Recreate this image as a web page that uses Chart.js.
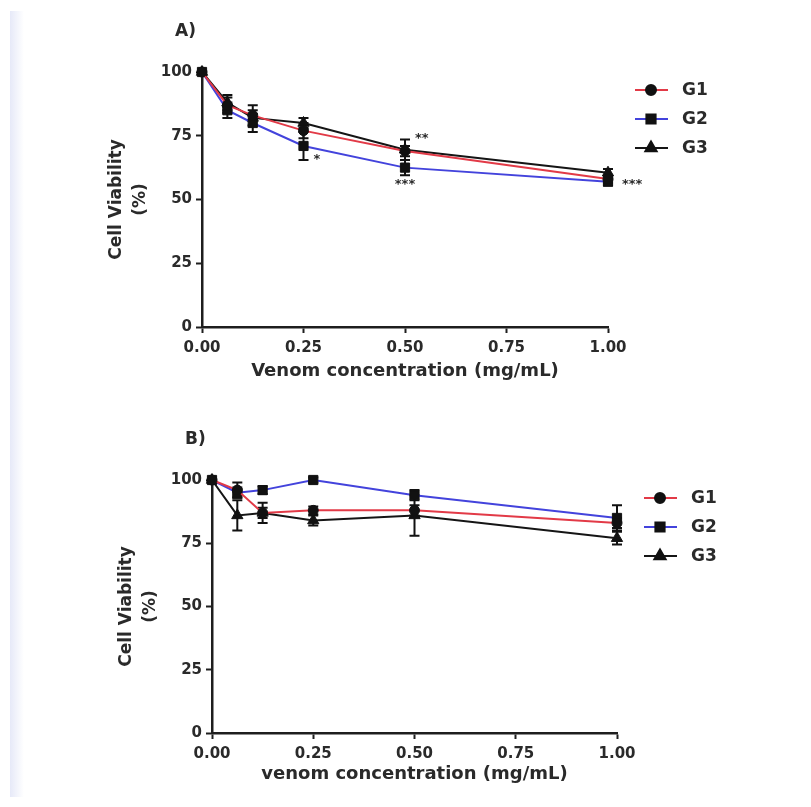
<!DOCTYPE html>
<html>
<head>
<meta charset="utf-8">
<script src="https://cdn.jsdelivr.net/npm/chart.js@4.4.1/dist/chart.umd.min.js"></script>
<style>
  body { margin: 0; background: #fff; width: 811px; height: 807px; position: relative; overflow: hidden; }
  #strip { position: absolute; left: 10px; top: 11px; width: 14px; height: 786px; background: linear-gradient(to right, #e6e9f8, #ffffff); }
  .panel { position: absolute; left: 0; }
  #panelA { top: 0; }
  #panelB { top: 400px; }
</style>
</head>
<body>
<div id="strip"></div>
<div class="panel" id="panelA"><canvas id="chartA" width="811" height="400"></canvas></div>
<div class="panel" id="panelB"><canvas id="chartB" width="811" height="407"></canvas></div>
<script>
// venom concentrations (mg/mL)
const conc = [0, 0.0625, 0.125, 0.25, 0.5, 1.0];
const xTicks = [0, 0.25, 0.5, 0.75, 1.0];
const yTicks = [0, 25, 50, 75, 100];
const groups = ["G1", "G2", "G3"];

// panel A: cell viability (%) and SEM
const g1A = [100, 87, 83, 77, 69, 58];
const g2A = [100, 85, 80, 71, 62.5, 57];
const g3A = [100, 88, 82, 80, 69.5, 60.5];
const g1AErr = [0, 3, 4, 3, 2, 1.5];
const g2AErr = [0, 3, 3.5, 5.5, 3, 1.5];
const g3AErr = [0, 3, 3, 2, 4, 1.5];
const starsA = [
  { x: 0.25, y: 67, text: "*", align: "left" },
  { x: 0.5, y: 75, text: "**", align: "left" },
  { x: 0.5, y: 57, text: "***", align: "center" },
  { x: 1.0, y: 57, text: "***", align: "left" },
];

// panel B
const g1B = [100, 96, 87, 88, 88, 83];
const g2B = [100, 95, 96, 100, 94, 85];
const g3B = [100, 86, 87, 84, 86, 77];
const g1BErr = [0, 3, 4, 1.5, 2, 2];
const g2BErr = [0, 2, 1.5, 1, 2, 5];
const g3BErr = [0, 6, 2, 2, 8, 2.5];

const lineColors = ["#e23a47", "#4343dc", "#151515"];
const markers = [
  { style: "circle", radius: 5 },
  { style: "rect", radius: 6.5 },
  { style: "triangle", radius: 6.5 },
];
const FONT = "'DejaVu Sans', sans-serif";
const TEXT = "#2a2a2a";

Chart.defaults.font.family = FONT;
Chart.defaults.font.weight = "bold";
Chart.defaults.color = TEXT;

// error bars, panel label, significance stars and legend
const panelExtras = {
  id: "panelExtras",
  beforeDatasetsDraw(chart) {
    const ctx = chart.ctx;
    const yScale = chart.scales.y;
    ctx.save();
    ctx.strokeStyle = "#111";
    ctx.lineWidth = 2;
    chart.data.datasets.forEach((ds, i) => {
      const meta = chart.getDatasetMeta(i);
      ds.errors.forEach((err, j) => {
        if (!err) return;
        const px = meta.data[j].x;
        const top = yScale.getPixelForValue(ds.data[j].y + err);
        const bot = yScale.getPixelForValue(ds.data[j].y - err);
        ctx.beginPath();
        ctx.moveTo(px, top);
        ctx.lineTo(px, bot);
        ctx.moveTo(px - 5, top);
        ctx.lineTo(px + 5, top);
        ctx.moveTo(px - 5, bot);
        ctx.lineTo(px + 5, bot);
        ctx.stroke();
      });
    });
    ctx.restore();
  },
  afterDraw(chart, args, opts) {
    const ctx = chart.ctx;
    const area = chart.chartArea;
    const xScale = chart.scales.x;
    const yScale = chart.scales.y;
    ctx.save();
    ctx.fillStyle = TEXT;
    ctx.textBaseline = "middle";

    // panel letter
    ctx.font = "bold 17px " + FONT;
    ctx.textAlign = "left";
    ctx.fillText(opts.label, area.left - 27, area.top - 40);

    // stars
    ctx.font = "bold 13px " + FONT;
    (opts.stars || []).forEach((s) => {
      const px = xScale.getPixelForValue(s.x);
      const py = yScale.getPixelForValue(s.y) + 3;
      ctx.textAlign = s.align;
      ctx.fillText(s.text, s.align === "center" ? px : px + (s.x === 1 ? 14 : 10), py);
    });

    // legend
    chart.data.datasets.forEach((ds, i) => {
      const y = area.top + 18 + i * 29;
      const x0 = area.right + 27;
      ctx.strokeStyle = ds.borderColor;
      ctx.lineWidth = 2;
      ctx.beginPath();
      ctx.moveTo(x0, y);
      ctx.lineTo(x0 + 33, y);
      ctx.stroke();
      ctx.fillStyle = "#111";
      ctx.strokeStyle = "#111";
      Chart.helpers.drawPoint(ctx, { pointStyle: ds.pointStyle, radius: ds.pointRadius, rotation: 0, borderWidth: 1 }, x0 + 16, y);
      ctx.fillStyle = TEXT;
      ctx.font = "bold 17px " + FONT;
      ctx.textAlign = "left";
      ctx.fillText(ds.label, area.right + 74, y + 1);
    });
    ctx.restore();
  },
};

function makeDataset(i, values, errors) {
  return {
    label: groups[i],
    data: conc.map((c, k) => ({ x: c, y: values[k] })),
    errors: errors,
    borderColor: lineColors[i],
    borderWidth: 2,
    pointStyle: markers[i].style,
    pointRadius: markers[i].radius,
    pointBackgroundColor: "#111",
    pointBorderColor: "#111",
    pointBorderWidth: 1,
    clip: false,
    tension: 0,
  };
}

function makePanel(canvasId, opt) {
  const axisColor = "#1e1e1e";
  new Chart(document.getElementById(canvasId), {
    type: "line",
    data: { datasets: opt.datasets },
    plugins: [panelExtras],
    options: {
      responsive: false,
      animation: false,
      layout: { padding: { left: 0, top: opt.top, right: opt.right, bottom: 0 } },
      plugins: {
        legend: { display: false },
        tooltip: { enabled: false },
        panelExtras: { label: opt.label, stars: opt.stars },
      },
      scales: {
        x: {
          type: "linear",
          min: 0,
          max: 1,
          afterBuildTicks: (scale) => { scale.ticks = xTicks.map((v) => ({ value: v })); },
          afterFit: (scale) => { scale.height = opt.xHeight; },
          ticks: { callback: (v) => v.toFixed(2), font: { size: 15, weight: "bold" }, color: TEXT, padding: 6, maxRotation: 0 },
          grid: { drawOnChartArea: false, drawTicks: true, tickLength: 6, tickWidth: 2, tickColor: axisColor },
          border: { color: axisColor, width: 2.5 },
          title: { display: true, text: opt.xTitle, font: { size: 18, weight: "bold" }, color: TEXT, padding: { top: 0, bottom: opt.xTitlePad } },
        },
        y: {
          min: 0,
          max: 100,
          afterBuildTicks: (scale) => { scale.ticks = yTicks.map((v) => ({ value: v })); },
          afterFit: (scale) => { scale.width = opt.left; },
          ticks: { font: { size: 15, weight: "bold" }, color: TEXT, padding: 4 },
          grid: { drawOnChartArea: false, drawTicks: true, tickLength: 6, tickWidth: 2, tickColor: axisColor },
          border: { color: axisColor, width: 2.5 },
          title: {
            display: true,
            text: ["Cell Viability", "(%)"],
            font: { size: 17, weight: "bold", lineHeight: 1.45 },
            color: TEXT,
            padding: { top: opt.left - 86 - 12, bottom: 0 },
          },
        },
      },
    },
  });
}

makePanel("chartA", {
  label: "A)",
  left: 202, right: 811 - 608, top: 72, xHeight: 400 - 327,
  xTitle: "Venom concentration (mg/mL)", xTitlePad: 18,
  stars: starsA,
  datasets: [makeDataset(0, g1A, g1AErr), makeDataset(1, g2A, g2AErr), makeDataset(2, g3A, g3AErr)],
});

makePanel("chartB", {
  label: "B)",
  left: 212, right: 811 - 617, top: 80, xHeight: 407 - 333,
  xTitle: "venom concentration (mg/mL)", xTitlePad: 22,
  stars: [],
  datasets: [makeDataset(0, g1B, g1BErr), makeDataset(1, g2B, g2BErr), makeDataset(2, g3B, g3BErr)],
});
</script>
</body>
</html>
